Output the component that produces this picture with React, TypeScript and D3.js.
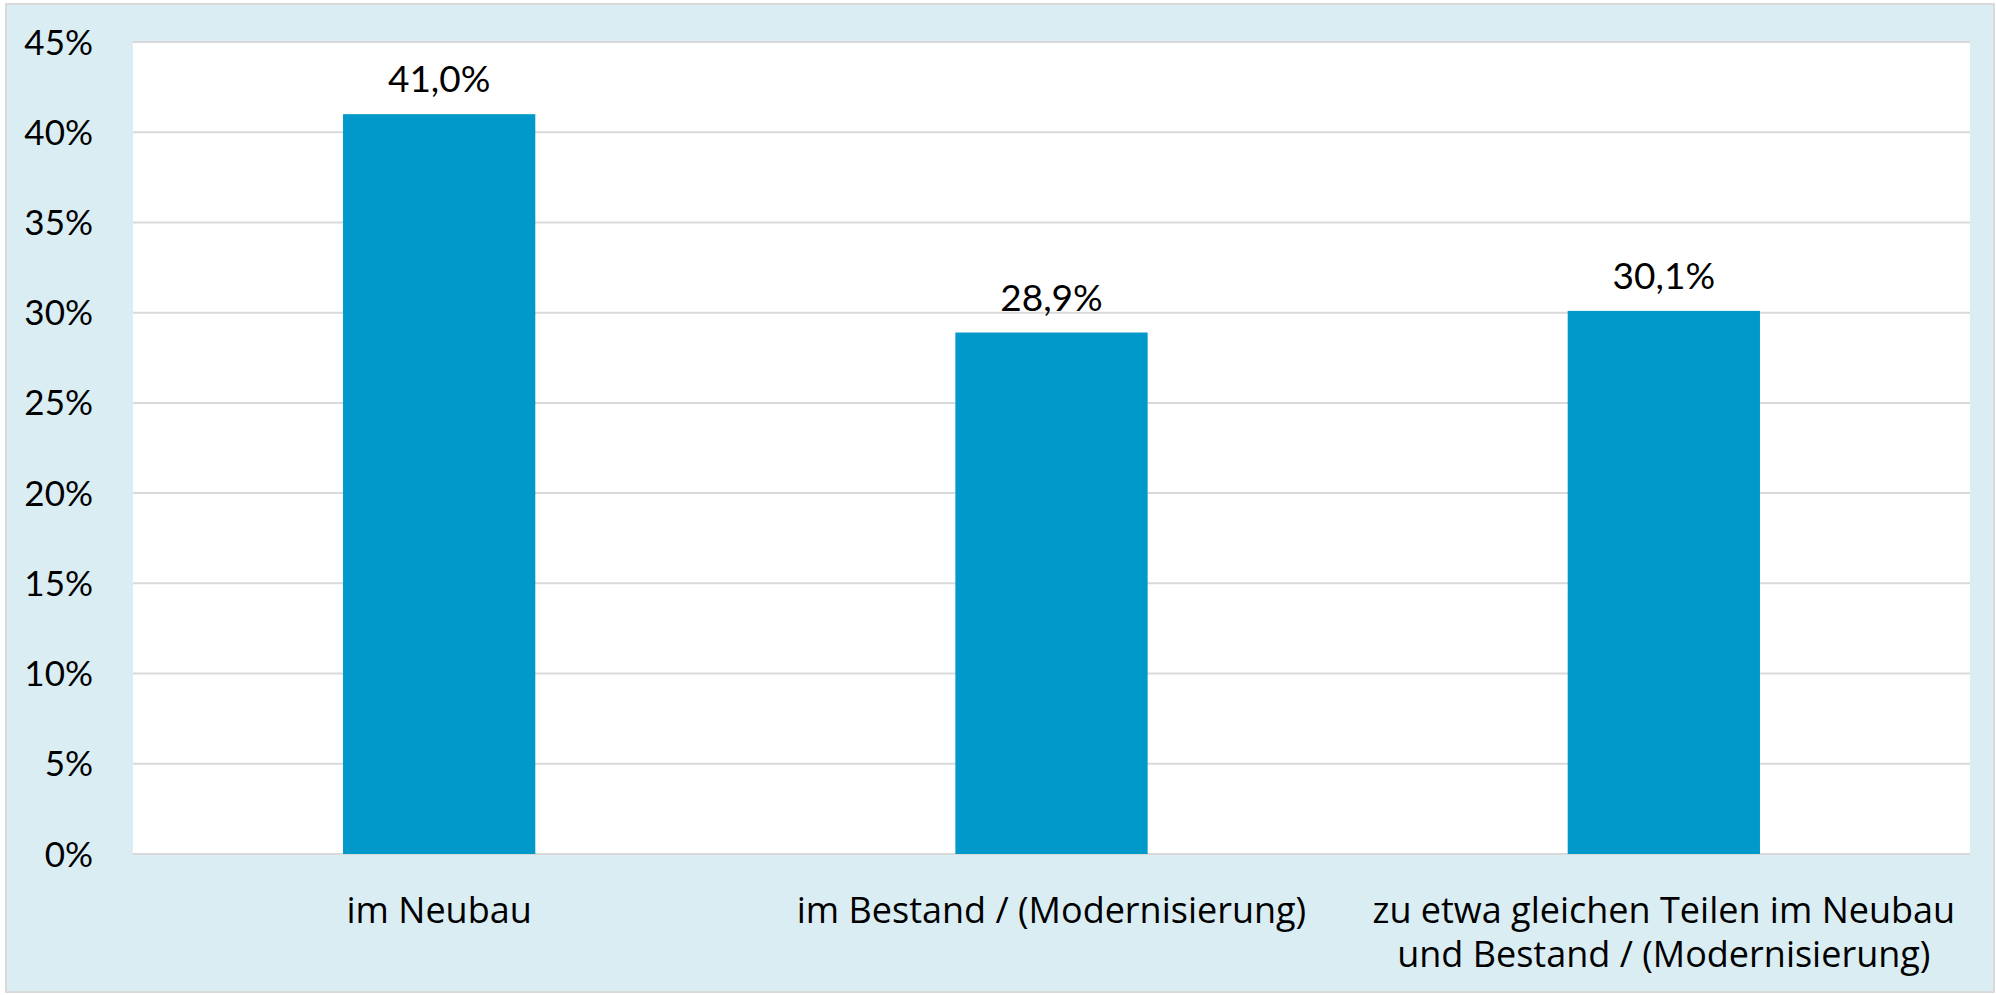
import React, { useEffect, useRef } from "react";
import * as d3 from "d3";

const categories: string[][] = [
  ["im Neubau"],
  ["im Bestand / (Modernisierung)"],
  ["zu etwa gleichen Teilen im Neubau", "und Bestand / (Modernisierung)"],
];
const values = [41.0, 28.9, 30.1];
const valueLabels = ["41,0%", "28,9%", "30,1%"];
const yTicks = [0, 5, 10, 15, 20, 25, 30, 35, 40, 45];
const yTickLabels = ["0%", "5%", "10%", "15%", "20%", "25%", "30%", "35%", "40%", "45%"];

const W = 1996;
const H = 995;
const FONT = "Lato, 'Open Sans', sans-serif";
const CAT_FONT = "'Open Sans', Lato, sans-serif";

export default function App() {
  const ref = useRef<SVGSVGElement>(null);

  useEffect(() => {
    const svg = d3.select(ref.current);
    svg.selectAll("*").remove();

    const plot = { left: 133, right: 1970, top: 42, bottom: 854 };

    // background and outer border
    svg
      .append("rect")
      .attr("x", 6)
      .attr("y", 4)
      .attr("width", W - 8)
      .attr("height", H - 7)
      .attr("fill", "#DAEDF3")
      .attr("stroke", "#D9D9D9")
      .attr("stroke-width", 2);

    svg
      .append("rect")
      .attr("x", plot.left)
      .attr("y", plot.top)
      .attr("width", plot.right - plot.left)
      .attr("height", plot.bottom - plot.top)
      .attr("fill", "#ffffff");

    const x = d3
      .scaleBand<number>()
      .domain(d3.range(categories.length))
      .range([plot.left, plot.right])
      .padding(0);

    const y = d3.scaleLinear().domain([0, 45]).range([plot.bottom, plot.top]);

    // gridlines
    svg
      .append("g")
      .selectAll("line")
      .data(yTicks)
      .enter()
      .append("line")
      .attr("x1", plot.left)
      .attr("x2", plot.right)
      .attr("y1", (d) => y(d))
      .attr("y2", (d) => y(d))
      .attr("stroke", "#D9D9D9")
      .attr("stroke-width", 2);

    // y tick labels
    svg
      .append("g")
      .selectAll("text")
      .data(yTicks)
      .enter()
      .append("text")
      .attr("x", 93)
      .attr("y", (d) => y(d))
      .attr("dy", "0.36em")
      .attr("text-anchor", "end")
      .style("font-family", FONT)
      .style("font-size", "35px")
      .attr("fill", "#000")
      .text((d, i) => yTickLabels[i]);

    const barW = x.bandwidth() * 0.314;

    // bars
    svg
      .append("g")
      .selectAll("rect")
      .data(values)
      .enter()
      .append("rect")
      .attr("x", (d, i) => x(i)! + x.bandwidth() / 2 - barW / 2)
      .attr("y", (d) => y(d))
      .attr("width", barW)
      .attr("height", (d) => y(0) - y(d))
      .attr("fill", "#0099CA");

    // value labels
    svg
      .append("g")
      .selectAll("text")
      .data(values)
      .enter()
      .append("text")
      .attr("x", (d, i) => x(i)! + x.bandwidth() / 2)
      .attr("y", (d) => y(d) - 22)
      .attr("text-anchor", "middle")
      .style("font-family", FONT)
      .style("font-size", "37px")
      .attr("fill", "#000")
      .text((d, i) => valueLabels[i]);

    // category labels
    const cat = svg
      .append("g")
      .selectAll("text")
      .data(categories)
      .enter()
      .append("text")
      .attr("text-anchor", "middle")
      .style("font-family", CAT_FONT)
      .style("font-size", "36px")
      .attr("fill", "#000");

    cat
      .selectAll("tspan")
      .data((d, i) => d.map((line) => ({ line, i })))
      .enter()
      .append("tspan")
      .attr("x", (d) => x(d.i)! + x.bandwidth() / 2)
      .attr("y", (d, j) => 923 + j * 44)
      .text((d) => d.line);
  }, []);

  return (
    <svg
      ref={ref}
      width={W}
      height={H}
      style={{ position: "absolute", left: 0, top: 0 }}
    ></svg>
  );
}
